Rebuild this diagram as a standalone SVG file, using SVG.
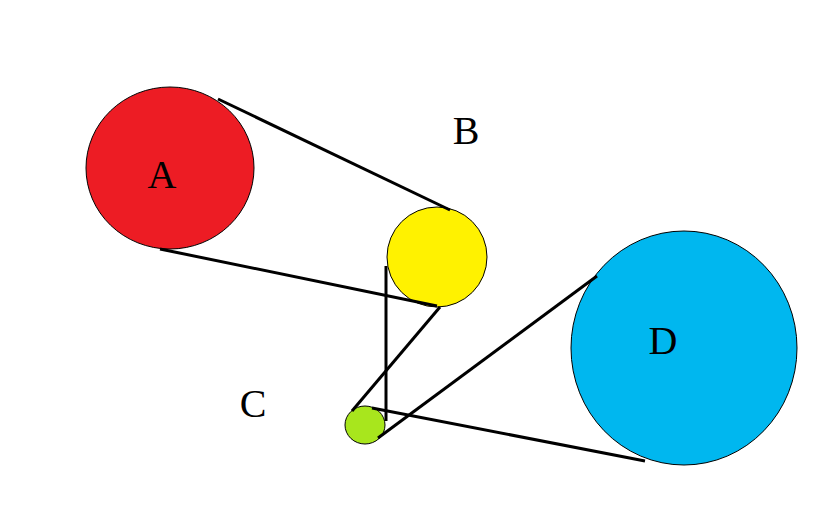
<svg xmlns="http://www.w3.org/2000/svg" width="840" height="525" viewBox="0 0 840 525">
<style>
.c{stroke:#000;stroke-width:1}
.l{stroke:#000;stroke-width:3;fill:none}
text{font-family:"Liberation Serif",serif;font-size:40px;fill:#000;text-anchor:middle}
</style>
<rect width="840" height="525" fill="#fff"/>
<g id="A"><ellipse class="c" cx="170" cy="168" rx="84" ry="81" fill="#ED1C24"/><text x="162" y="188">A</text></g>
<g id="B"><ellipse class="c" cx="437" cy="257" rx="50" ry="50" fill="#FFF200"/><text x="466" y="144">B</text></g>
<g id="C"><ellipse class="c" cx="365" cy="425" rx="20" ry="19" fill="#A8E61D"/><text x="253" y="417">C</text></g>
<g id="D"><ellipse class="c" cx="684" cy="348" rx="113" ry="117" fill="#00B7EF"/><text x="663" y="354">D</text></g>
<g id="connectors">
<line class="l" x1="218" y1="99" x2="450" y2="210"/>
<line class="l" x1="160" y1="249" x2="437" y2="306"/>
<line class="l" x1="386" y1="266" x2="386" y2="421"/>
<line class="l" x1="440" y1="307" x2="352" y2="411"/>
<line class="l" x1="378" y1="438" x2="597" y2="276"/>
<line class="l" x1="372" y1="408" x2="645" y2="461"/>
</g>
</svg>
